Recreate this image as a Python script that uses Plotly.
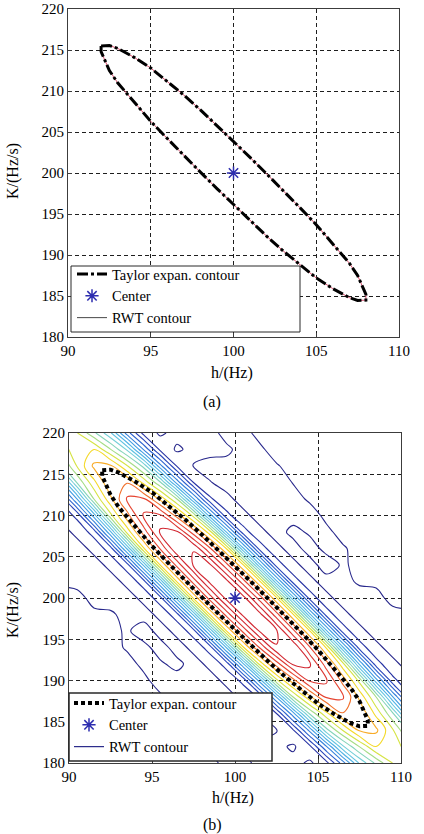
import plotly.graph_objects as go

# ---------------- data ----------------
h_ticks = [90, 95, 100, 105, 110]
K_ticks = [180, 185, 190, 195, 200, 205, 210, 215, 220]

center_h = [100]
center_K = [200]

# Taylor expansion contour, closed path
ellipse_h = [92.0, 92.5, 93.0, 94.0, 95.0, 96.0, 97.0, 98.0, 99.0, 100.0, 101.0, 102.0,
             103.0, 104.0, 105.0, 106.0, 107.0, 107.5, 107.8, 108.0, 108.0,
             107.5, 107.0, 106.0, 105.0, 104.0, 103.0, 102.0, 101.0, 100.0, 99.0,
             98.0, 97.0, 96.0, 95.0, 94.0, 93.0, 92.5, 92.2, 92.0, 92.0]
ellipse_K = [215.5, 215.55, 215.2, 214.1, 212.8, 211.2, 209.5, 207.7, 205.8, 203.9, 201.9, 199.9,
             197.9, 195.8, 193.7, 191.4, 189.0, 187.5, 186.0, 185.2, 184.5,
             184.45, 184.8, 185.9, 187.2, 188.8, 190.5, 192.3, 194.2, 196.1, 198.1,
             200.1, 202.1, 204.2, 206.3, 208.6, 211.0, 212.5, 214.0, 214.8, 215.5]

# RWT surface sampled on a grid (values estimated from the contour picture)
rwt_h = [89.5, 90.5, 91.5, 92.5, 93.5, 94.5, 95.5, 96.5, 97.5, 98.5, 99.5,
         100.5, 101.5, 102.5, 103.5, 104.5, 105.5, 106.5, 107.5, 108.5, 109.5, 110.5]
rwt_K = [180, 182, 184, 186, 188, 190, 192, 194, 196, 198, 200,
         202, 204, 206, 208, 210, 212, 214, 216, 218, 220]
rwt_z = [
    [.060,.060,.060,.060,.060,.060,.060,.060,.060,.060,.040,.035,.065,.068,.065,.042,.081,.226,.409,.512,.601,.601],
    [.060,.060,.060,.060,.060,.060,.060,.060,.064,.044,.035,.058,.064,.062,.043,.087,.245,.442,.553,.650,.650,.553],
    [.060,.060,.060,.060,.060,.060,.060,.062,.047,.035,.038,.038,.035,.048,.095,.268,.484,.605,.711,.711,.605,.484],
    [.060,.060,.060,.060,.060,.060,.060,.051,.040,.035,.035,.035,.052,.100,.281,.508,.635,.747,.747,.635,.508,.281],
    [.060,.060,.060,.060,.060,.060,.055,.038,.035,.035,.035,.060,.108,.304,.550,.687,.808,.808,.687,.550,.304,.108],
    [.060,.060,.060,.060,.060,.058,.035,.035,.035,.035,.060,.115,.323,.585,.731,.859,.859,.731,.585,.323,.115,.060],
    [.060,.060,.060,.060,.062,.042,.045,.060,.035,.060,.122,.342,.619,.774,.910,.910,.774,.619,.342,.122,.060,.035],
    [.060,.060,.060,.062,.046,.040,.065,.035,.060,.127,.357,.645,.806,.948,.948,.806,.645,.357,.127,.060,.035,.035],
    [.060,.060,.060,.060,.045,.068,.035,.060,.128,.361,.652,.815,.958,.958,.815,.652,.361,.128,.060,.035,.035,.035],
    [.060,.060,.060,.055,.040,.035,.060,.129,.363,.657,.821,.965,.965,.821,.657,.363,.129,.060,.035,.035,.035,.045],
    [.060,.065,.035,.035,.035,.060,.130,.365,.660,.825,.970,.970,.825,.660,.365,.130,.060,.035,.035,.035,.065,.060],
    [.045,.035,.035,.035,.060,.129,.363,.657,.821,.965,.965,.821,.657,.363,.129,.060,.035,.040,.055,.060,.060,.060],
    [.035,.035,.035,.060,.128,.361,.652,.815,.958,.958,.815,.652,.361,.128,.060,.035,.068,.045,.060,.060,.060,.060],
    [.035,.035,.060,.127,.357,.645,.806,.948,.948,.806,.645,.357,.127,.060,.035,.065,.040,.046,.062,.060,.060,.060],
    [.035,.060,.122,.342,.619,.774,.910,.910,.774,.619,.342,.122,.060,.035,.060,.045,.042,.062,.060,.060,.060,.060],
    [.060,.115,.323,.585,.731,.859,.859,.731,.585,.323,.115,.060,.035,.035,.035,.035,.058,.060,.060,.060,.060,.060],
    [.108,.304,.550,.687,.808,.808,.687,.550,.304,.108,.060,.035,.035,.035,.038,.055,.060,.060,.060,.060,.060,.060],
    [.281,.508,.635,.747,.747,.635,.508,.281,.100,.052,.035,.035,.035,.040,.051,.060,.060,.060,.060,.060,.060,.060],
    [.484,.605,.711,.711,.605,.484,.268,.095,.048,.035,.038,.038,.035,.047,.062,.060,.060,.060,.060,.060,.060,.060],
    [.553,.650,.650,.553,.442,.245,.087,.043,.062,.064,.058,.035,.044,.064,.060,.060,.060,.060,.060,.060,.060,.060],
    [.601,.601,.512,.409,.226,.081,.042,.065,.068,.065,.035,.040,.060,.060,.060,.060,.060,.060,.060,.060,.060,.060],
]

legend_names = ["Taylor expan. contour", "Center", "RWT contour"]

# ---------------- styles ----------------
W, H = 424, 834
FONT = "Liberation Serif"
BLUE = "rgb(45,45,175)"
NAVY = "rgb(45,45,140)"

jet = [
    [0.00, "rgb(40,40,140)"],
    [0.10, "rgb(40,60,180)"],
    [0.20, "rgb(45,110,215)"],
    [0.32, "rgb(70,170,230)"],
    [0.45, "rgb(110,205,225)"],
    [0.56, "rgb(140,215,170)"],
    [0.62, "rgb(190,225,90)"],
    [0.68, "rgb(240,230,40)"],
    [0.74, "rgb(250,200,40)"],
    [0.80, "rgb(245,130,40)"],
    [0.88, "rgb(230,70,50)"],
    [1.00, "rgb(210,40,50)"],
]

fig = go.Figure()

# ---- (a) ----
fig.add_trace(go.Scatter(x=ellipse_h, y=ellipse_K, mode="lines",
                         line=dict(color="rgb(215,80,110)", width=1),
                         showlegend=False, xaxis="x", yaxis="y", hoverinfo="skip"))
fig.add_trace(go.Scatter(x=ellipse_h, y=ellipse_K, mode="lines", name=legend_names[0],
                         line=dict(color="black", width=3, dash="11px,3px,3px,3px"),
                         xaxis="x", yaxis="y", legend="legend"))
fig.add_trace(go.Scatter(x=center_h, y=center_K, mode="markers", name=legend_names[1],
                         marker=dict(symbol="asterisk-open", size=11, color=BLUE,
                                     line=dict(color=BLUE, width=1.5)),
                         xaxis="x", yaxis="y", legend="legend"))
fig.add_trace(go.Scatter(x=[None], y=[None], mode="lines", name=legend_names[2],
                         line=dict(color="rgb(70,70,70)", width=1),
                         xaxis="x", yaxis="y", legend="legend"))

# ---- (b) ----
fig.add_trace(go.Contour(x=rwt_h, y=rwt_K, z=rwt_z, xaxis="x2", yaxis="y2",
                         contours=dict(start=0.05, end=0.95, size=0.05, coloring="lines",
                                       showlabels=False),
                         colorscale=jet, zmin=0.05, zmax=0.95, showscale=False,
                         line=dict(width=1.1, smoothing=1.0),
                         showlegend=False, hoverinfo="skip"))
fig.add_trace(go.Scatter(x=ellipse_h, y=ellipse_K, mode="lines", name=legend_names[0],
                         line=dict(color="black", width=4, dash="4px,3px"),
                         xaxis="x2", yaxis="y2", legend="legend2"))
fig.add_trace(go.Scatter(x=center_h, y=center_K, mode="markers", name=legend_names[1],
                         marker=dict(symbol="asterisk-open", size=11, color=BLUE,
                                     line=dict(color=BLUE, width=1.5)),
                         xaxis="x2", yaxis="y2", legend="legend2"))
fig.add_trace(go.Scatter(x=[None], y=[None], mode="lines", name=legend_names[2],
                         line=dict(color=NAVY, width=1.2),
                         xaxis="x2", yaxis="y2", legend="legend2"))


def ax(domain, rng, ticks, anchor):
    return dict(domain=domain, range=rng, tickvals=ticks, anchor=anchor, automargin=False,
                showgrid=True, gridcolor="rgb(30,30,30)", gridwidth=1, griddash="4px,3px",
                showline=True, mirror=True, linecolor="rgb(60,60,60)", linewidth=1.2,
                ticks="inside", ticklen=4, tickcolor="rgb(60,60,60)",
                ticklabeloverflow="allow",
                tickfont=dict(family=FONT, size=15, color="black"),
                zeroline=False, fixedrange=True)


def px_x(v):
    return v / W


def px_y(v):
    return 1 - v / H


legend_font = dict(family=FONT, size=14.5, color="black")


def label(text, x, y, angle=0):
    return dict(text=text, x=px_x(x), y=px_y(y), xref="paper", yref="paper",
                xanchor="center", yanchor="middle", showarrow=False, textangle=angle,
                font=dict(family=FONT, size=16, color="black"))


def legend_box(x0, y0, x1, y1, w):
    return dict(type="rect", xref="paper", yref="paper",
                x0=px_x(x0), x1=px_x(x1), y0=px_y(y1), y1=px_y(y0),
                fillcolor="white", line=dict(color="rgb(40,40,40)", width=w), layer="above")


fig.update_layout(
    width=W, height=H,
    margin=dict(l=0, r=0, t=0, b=0, autoexpand=False),
    paper_bgcolor="white", plot_bgcolor="white",
    xaxis=ax([px_x(68), px_x(399)], [90, 110], h_ticks, "y"),
    yaxis=ax([px_y(337), px_y(9)], [180, 220], K_ticks, "x"),
    xaxis2=ax([px_x(69), px_x(401)], [90, 110], h_ticks, "y2"),
    yaxis2=ax([px_y(763), px_y(433)], [180, 220], K_ticks, "x2"),
    legend=dict(x=px_x(72), y=px_y(258), xanchor="left", yanchor="top",
                bgcolor="rgba(0,0,0,0)", borderwidth=0,
                font=legend_font, tracegroupgap=0, itemwidth=30),
    legend2=dict(x=px_x(69), y=px_y(687), xanchor="left", yanchor="top",
                 bgcolor="rgba(0,0,0,0)", borderwidth=0,
                 font=legend_font, tracegroupgap=0, itemwidth=30),
    shapes=[legend_box(71, 266, 300, 332, 1), legend_box(69, 693, 272, 761, 1.5)],
    annotations=[
        label("h/(Hz)", 232, 373),
        label("K/(Hz/s)", 13, 171, -90),
        label("(a)", 212, 402),
        label("h/(Hz)", 233, 798),
        label("K/(Hz/s)", 13, 610, -90),
        label("(b)", 212, 825),
    ],
)

fig.write_html("out.html")
